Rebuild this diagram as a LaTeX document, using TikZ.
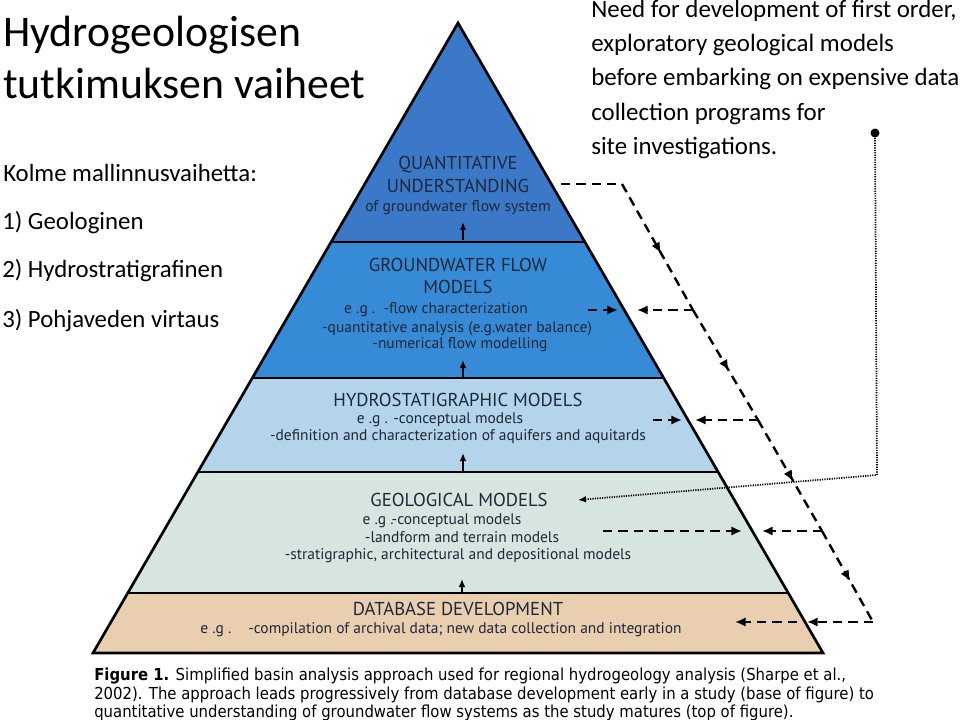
\documentclass[tikz,border=0pt]{standalone}
\usepackage{fontspec}
\setmainfont{Carlito}
\newfontfamily\pyrfont{PT Sans}
\newfontfamily\capfont[FakeStretch=0.9]{DejaVu Sans}
\usetikzlibrary{arrows.meta,decorations.markings}

\definecolor{topblue}{RGB}{59,120,200}
\definecolor{flowblue}{RGB}{55,138,214}
\definecolor{hydroblue}{RGB}{180,212,236}
\definecolor{geogreen}{RGB}{214,229,223}
\definecolor{dbtan}{RGB}{233,206,176}
\definecolor{pyrtext}{RGB}{30,40,56}

\tikzset{
  head/.style={font=\pyrfont\fontsize{14}{16}\selectfont, text=pyrtext, anchor=base, inner sep=0pt},
  body/.style={font=\pyrfont\fontsize{11.6}{13}\selectfont, text=pyrtext, anchor=base, inner sep=0pt},
  slide/.style={anchor=base west, inner sep=0pt},
  feed/.style={line width=1.8pt, dash pattern=on 7pt off 4.5pt, -{Latex[length=8pt,width=7pt]}},
  feedstep/.style={line width=1.8pt, dash pattern=on 7pt off 4.5pt, postaction={decorate},
    decoration={markings, mark=at position 0.55 with {\arrow{Latex[length=8pt,width=7pt]}}}},
  rise/.style={line width=1.2pt, -{Latex[length=6pt,width=5pt]}},
  lookup/.style={line width=1.3pt, dash pattern=on 0.9pt off 0.9pt, -{Latex[length=6pt,width=5pt]}}
}

\begin{document}
\begin{tikzpicture}[x=0.75pt,y=0.75pt]
  \useasboundingbox (0,0) rectangle (960,-720);

  % slide text
  \node[slide, font=\fontsize{32.8}{38}\selectfont] (title1) at (3,-47) {Hydrogeologisen};
  \node[slide, font=\fontsize{32.8}{38}\selectfont] (title2) at (3,-99) {tutkimuksen vaiheet};
  \node[slide, font=\fontsize{18.6}{22}\selectfont] (kolme) at (3,-182) {Kolme mallinnusvaihetta:};
  \node[slide, font=\fontsize{18.6}{22}\selectfont] (step1) at (2,-230) {1) Geologinen};
  \node[slide, font=\fontsize{18.6}{22}\selectfont] (step2) at (2,-278) {2) Hydrostratigrafinen};
  \node[slide, font=\fontsize{18.6}{22}\selectfont] (step3) at (2,-327) {3) Pohjaveden virtaus};

  \node[slide, font=\fontsize{18.7}{22}\selectfont] (need1) at (591,-18) {Need for development of first order,};
  \node[slide, font=\fontsize{18.7}{22}\selectfont] (need2) at (591,-52) {exploratory geological models};
  \node[slide, font=\fontsize{18.7}{22}\selectfont] (need3) at (591,-86) {before embarking on expensive data};
  \node[slide, font=\fontsize{18.7}{22}\selectfont] (need4) at (591,-121) {collection programs for};
  \node[slide, font=\fontsize{18.7}{22}\selectfont] (need5) at (591,-155) {site investigations.};

  % pyramid bands
  \fill[topblue] (458,-23) -- (584.9,-242) -- (331.1,-242) -- cycle;
  \fill[flowblue] (331.1,-242) -- (584.9,-242) -- (663.7,-378) -- (252.3,-378) -- cycle;
  \fill[hydroblue] (252.3,-378) -- (663.7,-378) -- (718.2,-472) -- (197.8,-472) -- cycle;
  \fill[geogreen] (197.8,-472) -- (718.2,-472) -- (788.3,-593) -- (127.7,-593) -- cycle;
  \fill[dbtan] (127.7,-593) -- (788.3,-593) -- (823,-653) -- (93,-653) -- cycle;
  \draw[line width=1.5pt] (331.1,-242) -- (584.9,-242);
  \draw[line width=1.5pt] (252.3,-378) -- (663.7,-378);
  \draw[line width=1.5pt] (197.8,-472) -- (718.2,-472);
  \draw[line width=1.5pt] (127.7,-593) -- (788.3,-593);
  \draw[line width=2pt, line join=miter] (458,-23) -- (823,-653) -- (93,-653) -- cycle;

  % band labels
  \node[head] (quant1) at (458,-170) {QUANTITATIVE};
  \node[head] (quant2) at (458,-193) {UNDERSTANDING};
  \node[body, font=\pyrfont\fontsize{11.7}{14}\selectfont] (quant3) at (458,-212) {of groundwater flow system};

  \node[head] (flow1) at (458,-272) {GROUNDWATER FLOW};
  \node[head] (flow2) at (458,-293) {MODELS};
  \node[body] (flow3) at (436,-313) {e .g .\ \ -flow characterization};
  \node[body] (flow4) at (457,-332) {-quantitative analysis (e.g.water balance)};
  \node[body] (flow5) at (460,-349) {-numerical flow modelling};

  \node[head] (hydro1) at (458,-406) {HYDROSTATIGRAPHIC MODELS};
  \node[body] (hydro2) at (440,-423) {e .g . -conceptual models};
  \node[body] (hydro3) at (458,-440) {-definition and characterization of aquifers and aquitards};

  \node[head] (geo1) at (459,-506) {GEOLOGICAL MODELS};
  \node[body] (geo2) at (442,-524) {e .g .-conceptual models};
  \node[body] (geo3) at (462,-542) {-landform and terrain models};
  \node[body] (geo4) at (458,-559) {-stratigraphic, architectural and depositional models};

  \node[head] (db1) at (458,-615) {DATABASE DEVELOPMENT};
  \node[body, anchor=base west] (db2) at (200,-633) {e .g .};
  \node[body, anchor=base west] (db3) at (248,-633) {-compilation of archival data; new data collection and integration};

  % upward arrows between bands
  \coordinate (r1a) at (463,-240); \coordinate (r1b) at (463,-222);
  \coordinate (r2a) at (463,-377); \coordinate (r2b) at (463,-360);
  \coordinate (r3a) at (463,-471); \coordinate (r3b) at (463,-453);
  \coordinate (r4a) at (462,-592); \coordinate (r4b) at (462,-579);
  \draw[rise] (r1a) -- (r1b);
  \draw[rise] (r2a) -- (r2b);
  \draw[rise] (r3a) -- (r3b);
  \draw[rise] (r4a) -- (r4b);

  % feedback path
  \coordinate (c0) at (561,-184);
  \coordinate (c1) at (622,-184);
  \coordinate (c2) at (693,-310);
  \coordinate (c3) at (758,-420);
  \coordinate (c4) at (822,-531);
  \coordinate (c5) at (873,-622);
  \draw[line width=1.8pt, dash pattern=on 7pt off 4.5pt] (c0) -- (c1);
  \draw[feedstep] (c1) -- (c2);
  \draw[feedstep] (c2) -- (c3);
  \draw[feedstep] (c3) -- (c4);
  \draw[feedstep] (c4) -- (c5);

  \coordinate (e2o) at (637,-310); \coordinate (e2s) at (588,-310); \coordinate (e2i) at (618,-310);
  \coordinate (e3o) at (695,-420); \coordinate (e3s) at (653,-420); \coordinate (e3i) at (682,-420);
  \coordinate (e4o) at (762,-531); \coordinate (e4s) at (603,-531); \coordinate (e4i) at (742,-531);
  \coordinate (e5o) at (807,-622); \coordinate (e5s) at (797,-622); \coordinate (e5i) at (735,-622);
  \draw[feed] (c2) -- (e2o);
  \draw[feed] (e2s) -- (e2i);
  \draw[feed] (c3) -- (e3o);
  \draw[feed] (e3s) -- (e3i);
  \draw[feed] (c4) -- (e4o);
  \draw[feed] (e4s) -- (e4i);
  \draw[feed] (c5) -- (e5o);
  \draw[feed] (e5s) -- (e5i);

  % dotted pointer to the geological models
  \fill (875,-133) circle (4.5);
  \coordinate (dot) at (875,-133);
  \coordinate (bend) at (877,-475);
  \coordinate (geotip) at (578,-500);
  \draw[lookup] (dot) -- (bend) -- (geotip);

  % caption
  \node[slide, font=\capfont\fontsize{12.4}{14}\selectfont] (cap1) at (94,-680)
    {\textbf{Figure 1.} Simplified basin analysis approach used for regional hydrogeology analysis (Sharpe et al.,};
  \node[slide, font=\capfont\fontsize{12.4}{14}\selectfont] (cap2) at (94,-699)
    {2002). The approach leads progressively from database development early in a study (base of figure) to};
  \node[slide, font=\capfont\fontsize{12.4}{14}\selectfont] (cap3) at (94,-717)
    {quantitative understanding of groundwater flow systems as the study matures (top of figure).};
\end{tikzpicture}
\end{document}
